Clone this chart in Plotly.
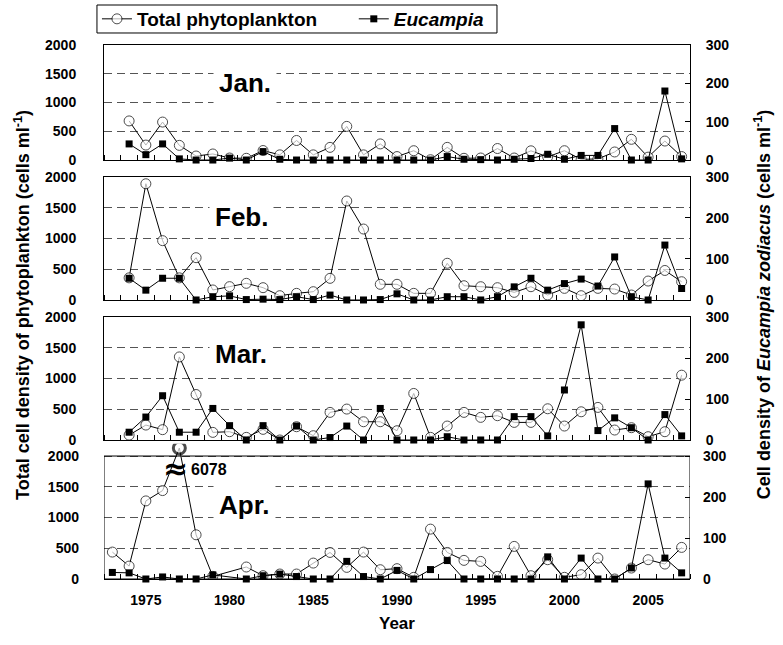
import plotly.graph_objects as go

# Sampling years and monthly cell densities
years = list(range(1973, 2008))

jan_total = [None, 680, 260, 660, 255, 70, 105, 35, 30, 165, 90, 340, 90, 220, 585, 90, 280,
             60, 162, 5, 220, 30, 35, 200, 35, 160, 55, 162, 10, 20, 140, 360, 50, 330, 60]
jan_eucampia = [None, 42, 14, 42, 3, 0, 0, 5, 0, 22, 2, 0, 0, 0, 0, 0, 0,
                0, 0, 0, 9, 2, 1, 0, 2, 4, 15, 2, 12, 12, 82, 0, 0, 180, 3]

feb_total = [None, 360, 1890, 965, 360, 688, 163, 217, 271, 200, 70, 108, 135, 352, 1610, 1154, 255,
             255, 108, 108, 597, 232, 216, 200, 124, 216, 81, 189, 70, 189, 178, 81, 308, 480, 297]
feb_eucampia = [None, 53, 24, 53, 53, 0, 8, 10, 1, 2, 1, 8, 1, 12, 0, 0, 1,
                15, 0, 0, 8, 8, 0, 8, 32, 53, 24, 40, 51, 34, 105, 8, 0, 134, 28]

mar_total = [None, 80, 243, 168, 1351, 740, 124, 135, 43, 173, 0, 216, 70, 449, 503, 297, 297,
             151, 757, 43, 227, 449, 368, 395, 286, 286, 508, 227, 459, 530, 162, 200, 54, 135, 1054]
mar_eucampia = [None, 19, 56, 108, 19, 19, 77, 35, 0, 35, 0, 34, 0, 6, 34, 0, 77,
                0, 0, 0, 8, 0, 0, 0, 57, 57, 10, 122, 281, 23, 54, 30, 0, 62, 10]

apr_total = [438, 210, 1270, 1438, 6078, 719, 43, None, 195, 54, 81, 81, 259, 432, 189, 438, 151,
             168, 27, 811, 432, 303, 286, 43, 530, 54, 314, 27, 70, 340, 0, 178, 314, 243, 514]
apr_eucampia = [16, 15, 0, 5, 0, 0, 10, None, 0, 8, 12, 6, 0, 0, 43, 6, 0,
                21, 0, 23, 45, 0, 0, 0, 0, 0, 54, 0, 51, 0, 0, 27, 232, 51, 15]

months = ["Jan.", "Feb.", "Mar.", "Apr."]
totals = [jan_total, feb_total, mar_total, apr_total]
eucampias = [jan_eucampia, feb_eucampia, mar_eucampia, apr_eucampia]

left_ticks = [0, 500, 1000, 1500, 2000]
right_ticks = [0, 100, 200, 300]
year_ticks = [1975, 1980, 1985, 1990, 1995, 2000, 2005]

LEFT_MAX = 2000
RIGHT_MAX = 300
BREAK_POS = 2130   # where an off-scale value is drawn, just above the broken axis
HEADROOM = 1.1     # April axes extend 10 % above the frame to hold the off-scale mark


def broken_axis(values):
    """Values beyond the axis are drawn just above the frame (broken axis)."""
    return [None if v is None else (v if v <= LEFT_MAX else BREAK_POS) for v in values]


# panel frames (bottom, top) in paper units
frames = [(0.7846, 1.0), (0.5225, 0.7528), (0.2603, 0.4906), (0.0, 0.2303)]
label_pos = [(1980.9, 1348), (1980.7, 1350), (1980.7, 1398), (1980.9, 1203)]

NUM_FONT = "Liberation Sans, Arial"
TXT_FONT = "Liberation Sans, Arial"
TICK_FONT = dict(family=NUM_FONT, size=14, color="black", weight="bold")

fig = go.Figure()
layout = {}
annotations = []
shapes = []

for i in range(4):
    xa = "x" if i == 0 else f"x{i + 1}"
    yl = "y" if i == 0 else f"y{2 * i + 1}"
    yr = f"y{2 * i + 2}"
    xkey = "xaxis" if i == 0 else f"xaxis{i + 1}"
    ylkey = "yaxis" if i == 0 else f"yaxis{2 * i + 1}"
    yrkey = f"yaxis{2 * i + 2}"

    tot = totals[i]
    off = [v is not None and v > LEFT_MAX for v in tot]
    has_off = any(off)
    scale = HEADROOM if has_off else 1.0
    bottom, top = frames[i]
    domain = [bottom, bottom + (top - bottom) * scale]

    fig.add_trace(go.Scatter(
        x=years, y=broken_axis(tot), xaxis=xa, yaxis=yl,
        mode="lines+markers",
        name="<b>Total phytoplankton</b>&nbsp;&nbsp;&nbsp;&nbsp;&nbsp;&nbsp;",
        showlegend=(i == 0), legendrank=1, connectgaps=True,
        line=dict(color="black", width=1),
        marker=dict(symbol="circle", color="white",
                    size=[12 if o else 10 for o in off],
                    line=dict(color="black", width=[3 if o else 1 for o in off])),
    ))
    fig.add_trace(go.Scatter(
        x=years, y=eucampias[i], xaxis=xa, yaxis=yr,
        mode="lines+markers", name="<b><i>Eucampia</i></b>",
        showlegend=(i == 0), legendrank=2, connectgaps=True, cliponaxis=False,
        line=dict(color="black", width=1),
        marker=dict(symbol="square", size=7, color="black"),
    ))

    layout[xkey] = dict(
        domain=[0, 1], range=[1972.5, 2007.5], anchor=yl,
        showline=True, linecolor="black", linewidth=1, mirror=not has_off,
        tickvals=year_ticks, ticks="", showticklabels=(i == 3),
        ticklabelstandoff=8, tickfont=TICK_FONT,
        minor=dict(tick0=1972.5, dtick=1, ticks="inside", ticklen=5,
                   tickcolor="black", tickwidth=1, showgrid=False),
        showgrid=False, zeroline=False,
    )
    layout[ylkey] = dict(
        domain=domain, range=[0, LEFT_MAX * scale], anchor=xa,
        tickvals=left_ticks, ticks="", ticklabelstandoff=24, tickfont=TICK_FONT,
        showline=not has_off, linecolor="black", linewidth=1,
        showgrid=True, gridcolor="#555555", gridwidth=1, griddash="8px,5px",
        zeroline=False,
    )
    layout[yrkey] = dict(
        overlaying=yl, side="right", anchor=xa, range=[0, RIGHT_MAX * scale],
        tickvals=right_ticks, ticks="inside", ticklen=5, tickcolor="black",
        ticklabelstandoff=12, tickfont=TICK_FONT,
        showline=not has_off, linecolor="black", linewidth=1,
        showgrid=False, zeroline=False,
    )
    if has_off:
        # frame drawn at the nominal axis limits; the axes above it stay open
        shapes.append(dict(type="rect", xref=xa, yref=yl, x0=1972.5, x1=2007.5,
                           y0=0, y1=LEFT_MAX, line=dict(color="black", width=1),
                           fillcolor="rgba(0,0,0,0)", layer="above"))

    lx, ly = label_pos[i]
    annotations.append(dict(
        x=lx, y=ly, xref=xa, yref=yl, text=f"<b>{months[i]}</b>",
        showarrow=False, bgcolor="white", borderpad=5,
        font=dict(family=TXT_FONT, size=26, color="black"),
    ))

# off-scale April value: break mark and value label
apr_off = [(y, v) for y, v in zip(years, apr_total) if v is not None and v > LEFT_MAX]
for yr_off, v_off in apr_off:
    annotations.append(dict(
        x=yr_off - 0.2, y=1790, xref="x4", yref="y7", text="<b>≈</b>",
        showarrow=False, font=dict(family="DejaVu Sans", size=30, color="black"),
    ))
    annotations.append(dict(
        x=yr_off + 0.6, y=1775, xref="x4", yref="y7", text=f"<b>{v_off}</b>",
        showarrow=False, xanchor="left",
        font=dict(family=NUM_FONT, size=16, color="black"),
    ))

annotations += [
    dict(x=-0.14, y=0.513, xref="paper", yref="paper", textangle=-90,
         xanchor="center", yanchor="middle",
         text="<b>Total cell density of phytoplankton (cells ml<sup>-1</sup>)</b>",
         showarrow=False, font=dict(family=TXT_FONT, size=18, color="black")),
    dict(x=1.123, y=0.513, xref="paper", yref="paper", textangle=-90,
         xanchor="center", yanchor="middle",
         text="<b>Cell density of <i>Eucampia zodiacus</i> (cells ml<sup>-1</sup>)</b>",
         showarrow=False, font=dict(family=TXT_FONT, size=18, color="black")),
    dict(x=0.5, y=-0.105, xref="paper", yref="paper", text="<b>Year</b>",
         showarrow=False, font=dict(family=TXT_FONT, size=17, color="black")),
]

# legend frame
shapes.append(dict(type="rect", xref="paper", yref="paper",
                   x0=-0.012, x1=0.6706, y0=1.0225, y1=1.0749,
                   line=dict(color="black", width=1), fillcolor="white",
                   layer="below"))

fig.update_layout(
    width=783, height=645,
    margin=dict(l=104, r=93, t=45, b=66, autoexpand=False),
    paper_bgcolor="white", plot_bgcolor="white",
    showlegend=True,
    legend=dict(orientation="h", x=-0.012, xanchor="left", y=1.0843, yanchor="top",
                borderwidth=0, bgcolor="rgba(0,0,0,0)",
                font=dict(family=TXT_FONT, size=19, color="black"),
                itemwidth=30, traceorder="normal"),
    annotations=annotations,
    shapes=shapes,
    **layout,
)

fig.write_html("out.html")
